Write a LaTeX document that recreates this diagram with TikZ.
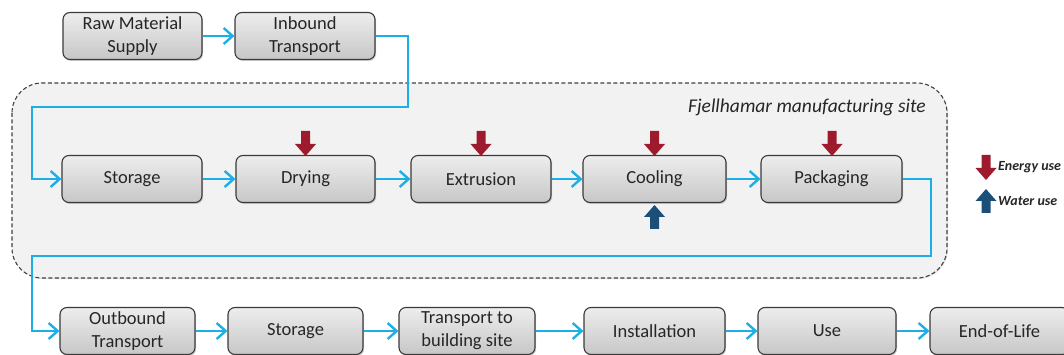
\documentclass[tikz,border=0pt]{standalone}
\usepackage{fontspec}
\setmainfont{Carlito}
\usetikzlibrary{arrows.meta,shadows}
\definecolor{flow}{HTML}{1EAEE6}
\definecolor{energy}{HTML}{9E1B2E}
\definecolor{water}{HTML}{1B4F7A}
\definecolor{sitebg}{HTML}{F2F2F2}
\definecolor{boxline}{HTML}{3A3A3A}
\definecolor{txt}{HTML}{262626}
\tikzset{
  box/.style={draw=boxline, line width=1.1pt, rounded corners=7pt,
    top color=white!93!black, bottom color=black!22,
    drop shadow={shadow xshift=1.2pt, shadow yshift=-1.5pt, opacity=0.35},
    minimum width=139pt, minimum height=47pt, inner sep=0pt, align=center,
    text=txt, font=\fontsize{18.5}{23}\selectfont},
  flow/.style={draw=flow, line width=2.4pt, -{Straight Barb[length=9pt,width=16pt]}},
  energyarrow/.pic={\fill[energy] (-4.5,0) -- (4.5,0) -- (4.5,13) -- (10.5,13) -- (0,25) -- (-10.5,13) -- (-4.5,13) -- cycle;},
  waterarrow/.pic={\fill[water] (-4.5,0) -- (4.5,0) -- (4.5,-12) -- (10.5,-12) -- (0,-24) -- (-10.5,-12) -- (-4.5,-12) -- cycle;},
  legend/.style={anchor=west, text=txt, font=\fontsize{14}{16}\selectfont\bfseries\itshape, inner sep=0pt},
}
\begin{document}
\begin{tikzpicture}[x=1pt,y=-1pt]
\useasboundingbox (0,0) rectangle (1064,355);
\clip (0,0) rectangle (1064,355);
% site container
\draw[dash pattern=on 4pt off 2.5pt, draw=black!75, line width=1.1pt, fill=sitebg, rounded corners=30pt,
  drop shadow={shadow xshift=1pt, shadow yshift=-1pt, opacity=0.25}]
  (12,83) rectangle (947,278);
\node[anchor=base east, text=txt, font=\fontsize{19.5}{22}\selectfont\itshape, inner sep=0pt] (site) at (926,113) {Fjellhamar manufacturing site};
% row 1
\node[box] (raw) at (132.5,36) {Raw Material\\Supply};
\node[box, minimum width=140pt] (inb) at (305,36) {Inbound\\Transport};
% row 2
\node[box, minimum width=140pt] (sto1) at (132,179) {Storage};
\node[box] (dry) at (305.5,179) {Drying};
\node[box, minimum width=140pt] (ext) at (481,179) {Extrusion};
\node[box, minimum width=143pt] (cool) at (654.5,179) {Cooling};
\node[box, minimum width=141pt] (pack) at (831.5,179) {Packaging};
% row 3
\node[box, minimum width=135pt] (outb) at (127.5,331) {Outbound\\Transport};
\node[box, minimum width=135pt] (sto2) at (295.5,331) {Storage};
\node[box, minimum width=136pt] (trans) at (467,331) {Transport to\\building site};
\node[box, minimum width=141pt] (inst) at (654.5,331) {Installation};
\node[box, minimum width=138pt] (use) at (827,331) {Use};
\node[box, minimum width=139pt] (eol) at (999.5,331) {End-of-Life};
% connectors
\coordinate (c1) at (408,107);
\coordinate (c2) at (32,107);
\coordinate (c3) at (931,256);
\coordinate (c4) at (32,256);
\draw[flow] (raw) -- (inb);
\draw[flow] (inb.east) -| (c1) -- (c2) |- (sto1.west);
\draw[flow] (sto1) -- (dry);
\draw[flow] (dry) -- (ext);
\draw[flow] (ext) -- (cool);
\draw[flow] (cool) -- (pack);
\draw[flow] (pack.east) -| (c3) -- (c4) |- (outb.west);
\draw[flow] (outb) -- (sto2);
\draw[flow] (sto2) -- (trans);
\draw[flow] (trans) -- (inst);
\draw[flow] (inst) -- (use);
\draw[flow] (use) -- (eol);
% energy and water arrows
\pic at (305.5,131) {energyarrow};
\pic at (481,131) {energyarrow};
\pic at (654.5,131) {energyarrow};
\pic at (832,131) {energyarrow};
\pic at (654.5,229) {waterarrow};
% legend
\pic at (986,155) {energyarrow};
\pic at (986,213) {waterarrow};
\node[legend] (leg1) at (998,167) {Energy use};
\node[legend] (leg2) at (998,201) {Water use};
\end{tikzpicture}
\end{document}
